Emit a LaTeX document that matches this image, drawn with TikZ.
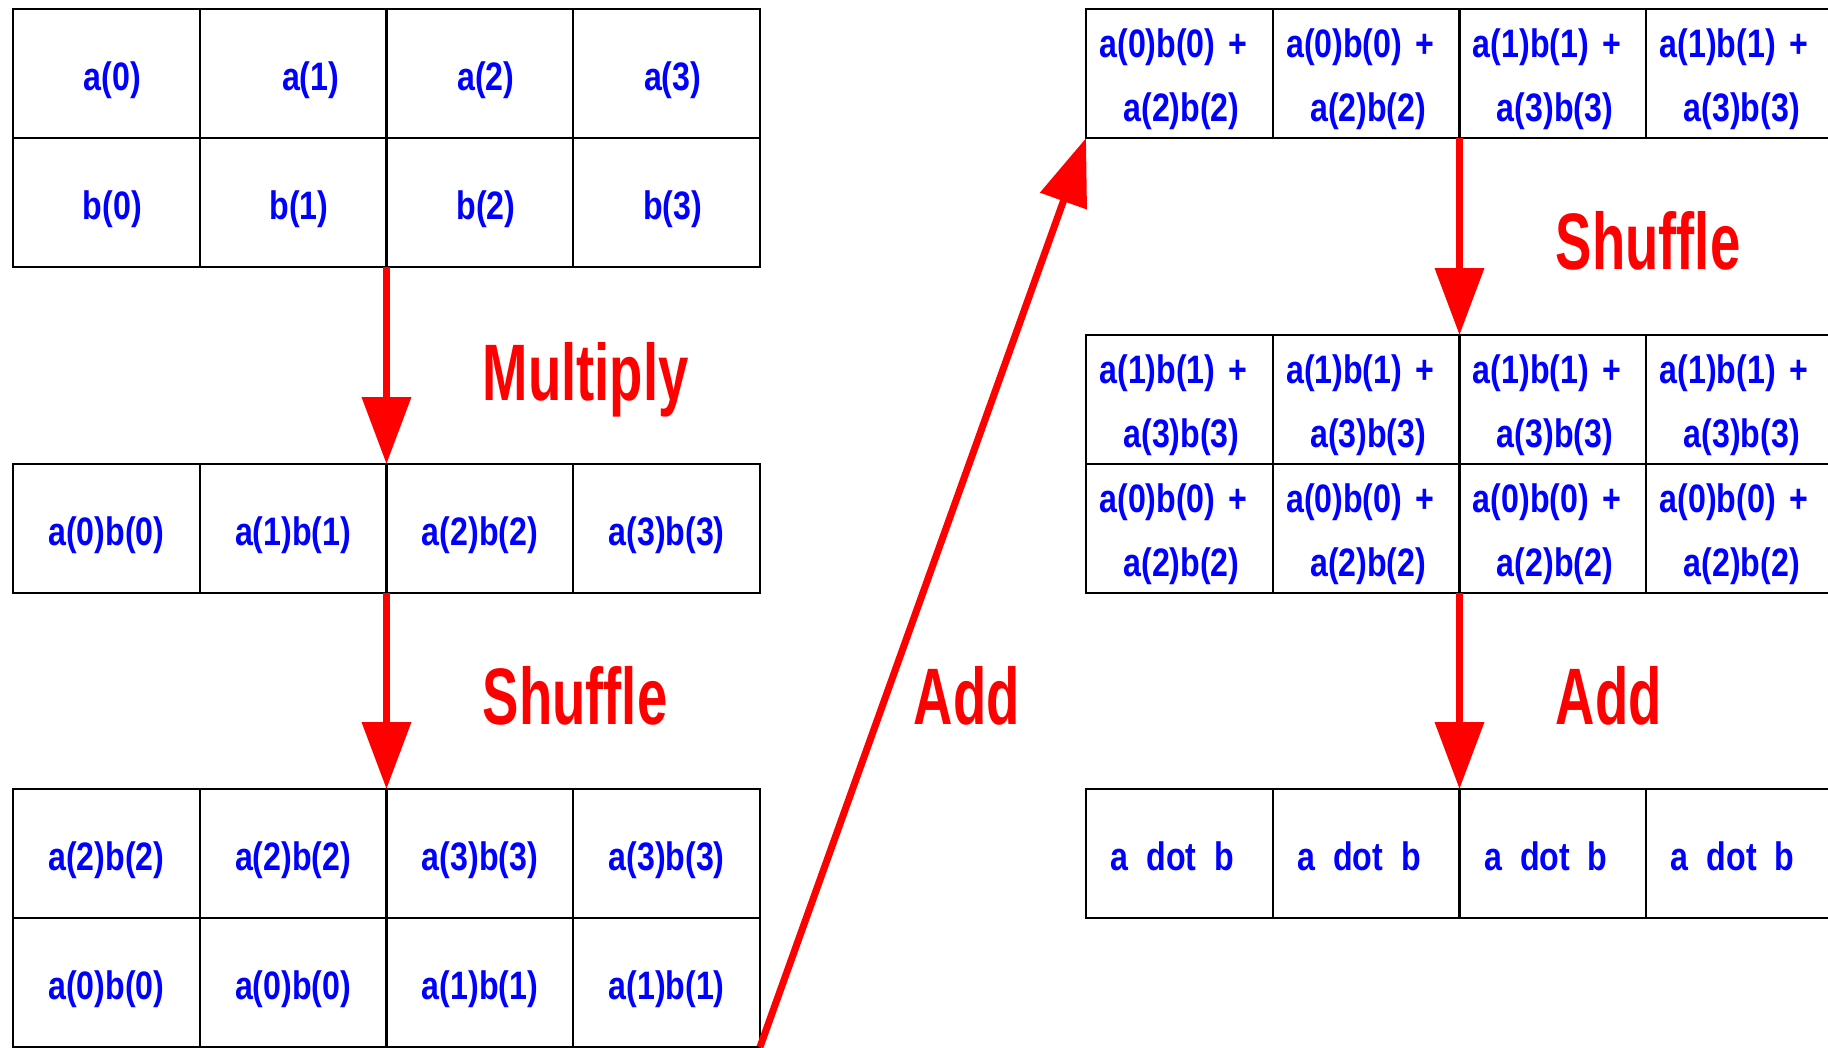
\documentclass[tikz,border=0pt]{standalone}
\usepackage{fontspec}
\usetikzlibrary{arrows.meta}
\newfontfamily\cellfont[FakeStretch=0.81]{Liberation Sans}
\newfontfamily\opfont[FakeStretch=0.68]{Liberation Sans}
\definecolor{opred}{RGB}{255, 0, 0}
\definecolor{valblue}{RGB}{0, 0, 255}

\tikzset{
  cell/.style={draw=black, line width=0.6pt, minimum width=1.8675cm, minimum height=1.29cm,
               inner sep=0pt, outer sep=0pt, text=valblue, text height=0.37cm, text depth=0.04cm,
               font=\cellfont\bfseries\fontsize{11.3}{18.2}\selectfont},
  pair/.style={cell, text width=1.6cm, align=left, text height=, text depth=0.60cm},
  flow/.style={draw=opred, line width=2pt, -{Triangle[length=0.67cm, width=0.48cm]}},
  oplabel/.style={text=opred, anchor=base west, inner sep=0pt,
                  font=\opfont\bfseries\fontsize{22.8}{24}\selectfont}
}

\begin{document}
\begin{tikzpicture}
  \useasboundingbox (0,0) rectangle (18.28,-10.47);

  % 输入向量 a, b
  \foreach \c/\x/\s in {1/1.064/0.12, 2/2.931/0.35, 3/4.799/0.12, 4/6.666/0.12} {
    \pgfmathtruncatemacro\k{\c-1}
    \node[cell] (inp1\c) at (\x,-0.735) {\hspace*{\s cm}a(\k)};
    \node[cell] (inp2\c) at (\x,-2.025) {\hspace*{0.12cm}b(\k)};
  }

  % 逐元素相乘
  \foreach \c/\x in {1/1.064, 2/2.931, 3/4.799, 4/6.666} {
    \pgfmathtruncatemacro\k{\c-1}
    \node[cell] (mul1\c) at (\x,-5.285) {a(\k)b(\k)};
  }

  % 第一次 shuffle
  \foreach \c/\x/\i/\j in {1/1.064/2/0, 2/2.931/2/0, 3/4.799/3/1, 4/6.666/3/1} {
    \node[cell] (shl1\c) at (\x,-8.535) {a(\i)b(\i)};
    \node[cell] (shl2\c) at (\x,-9.825) {a(\j)b(\j)};
  }

  % 第一次相加
  \foreach \c/\x/\i/\j in {1/11.794/0/2, 2/13.661/0/2, 3/15.529/1/3, 4/17.396/1/3} {
    \node[pair] (sum1\c) at (\x,-0.735) {a(\i)b(\i) +\\\hspace*{0.24cm}a(\j)b(\j)};
  }

  % 第二次 shuffle
  \foreach \c/\x in {1/11.794, 2/13.661, 3/15.529, 4/17.396} {
    \node[pair] (rot1\c) at (\x,-3.995) {a(1)b(1) +\\\hspace*{0.24cm}a(3)b(3)};
    \node[pair] (rot2\c) at (\x,-5.285) {a(0)b(0) +\\\hspace*{0.24cm}a(2)b(2)};
  }

  % 结果
  \foreach \c/\x in {1/11.794, 2/13.661, 3/15.529, 4/17.396} {
    \node[cell] (dot1\c) at (\x,-8.535) {a~~dot~~b\hspace*{0.14cm}};
  }

  % 箭头
  \draw[flow] (inp22.south east) -- (mul12.north east);
  \draw[flow] (mul12.south east) -- (shl12.north east);
  \draw[flow] (shl24.south east) -- (sum11.south west);
  \draw[flow] (sum12.south east) -- (rot12.north east);
  \draw[flow] (rot22.south east) -- (dot12.north east);

  % 操作名
  \node[oplabel] (lblmul) at (4.82,-4.00) {Multiply};
  \node[oplabel] (lblshl) at (4.82,-7.24) {Shuffle};
  \node[oplabel] (lbladd) at (9.13,-7.24) {Add};
  \node[oplabel] (lblrot) at (15.55,-2.69) {Shuffle};
  \node[oplabel] (lbldot) at (15.55,-7.24) {Add};
\end{tikzpicture}
\end{document}
